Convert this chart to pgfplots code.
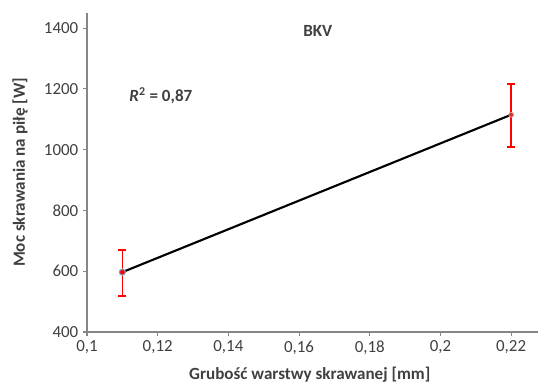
\documentclass[border=0pt]{standalone}
\usepackage{pgfplots}
\pgfplotsset{compat=1.18}
\usepackage{fontspec}
\setmainfont{Carlito}
\definecolor{axgray}{HTML}{868686}
\definecolor{txtgray}{HTML}{404040}
\definecolor{xlblue}{HTML}{4F81BD}
\definecolor{ebred}{HTML}{FF0000}
\definecolor{ptred}{HTML}{C0392B}
\begin{document}
\begin{tikzpicture}
\path[use as bounding box] (-65.25pt,-39.75pt) rectangle (338.25pt,249pt);
\begin{axis}[
  at={(0,0)}, anchor=south west,
  scale only axis, width=338.25pt, height=239.25pt,
  xmin=0.1, xmax=0.2276, ymin=400, ymax=1450,
  axis x line=bottom, axis y line=left,
  axis line style={draw=axgray, line width=0.8pt, -},
  xtick={0.1,0.12,0.14,0.16,0.18,0.2,0.22},
  ytick={400,600,800,1000,1200,1400},
  tick align=outside, major tick length=3pt,
  tick style={draw=axgray, line width=0.8pt},
  /pgf/number format/assume math mode=true,
  xticklabel style={/pgf/number format/.cd, fixed, use comma, precision=2},
  yticklabel style={/pgf/number format/.cd, 1000 sep={}},
  ticklabel style={font=\fontsize{12.7}{15}\selectfont, text=txtgray},
  xlabel={Grubość warstwy skrawanej [mm]},
  ylabel={Moc skrawania na piłę [W]},
  label style={font=\bfseries\fontsize{12.8}{15}\selectfont, text=txtgray},
  xlabel style={at={([yshift=-32.25pt]axis description cs:0.494,0)}, anchor=center},
  ylabel style={at={([xshift=-50.25pt]axis description cs:0,0.5)}, anchor=center},
  clip=false,
]
\addplot[black, line width=1.6pt] coordinates {(0.11,597) (0.22,1115)};
% error bars (mean - low, mean + high)
\addplot[ebred, line width=1.25pt, mark=-, mark size=3pt, mark options={solid, draw=ebred}]
  coordinates {(0.11,519) (0.11,669)};
\addplot[ebred, line width=1.25pt, mark=-, mark size=3pt, mark options={solid, draw=ebred}]
  coordinates {(0.22,1009) (0.22,1217)};
\addplot[only marks, mark=*, mark size=2.3pt, mark options={draw=xlblue!70, fill=ebred, line width=0.8pt}]
  coordinates {(0.11,597)};
\addplot[only marks, mark=*, mark size=1.8pt, mark options={draw=ebred!50, fill=ptred, line width=0.6pt}]
  coordinates {(0.22,1115)};
\node[font=\bfseries\fontsize{12.8}{15}\selectfont, text=txtgray] at (axis cs:0.1653,1390) {BKV};
\node[font=\bfseries\fontsize{12.8}{15}\selectfont, text=txtgray] at (axis cs:0.1209,1177) {\textit{R}\textsuperscript{2} = 0,87};
\end{axis}
\end{tikzpicture}
\end{document}
